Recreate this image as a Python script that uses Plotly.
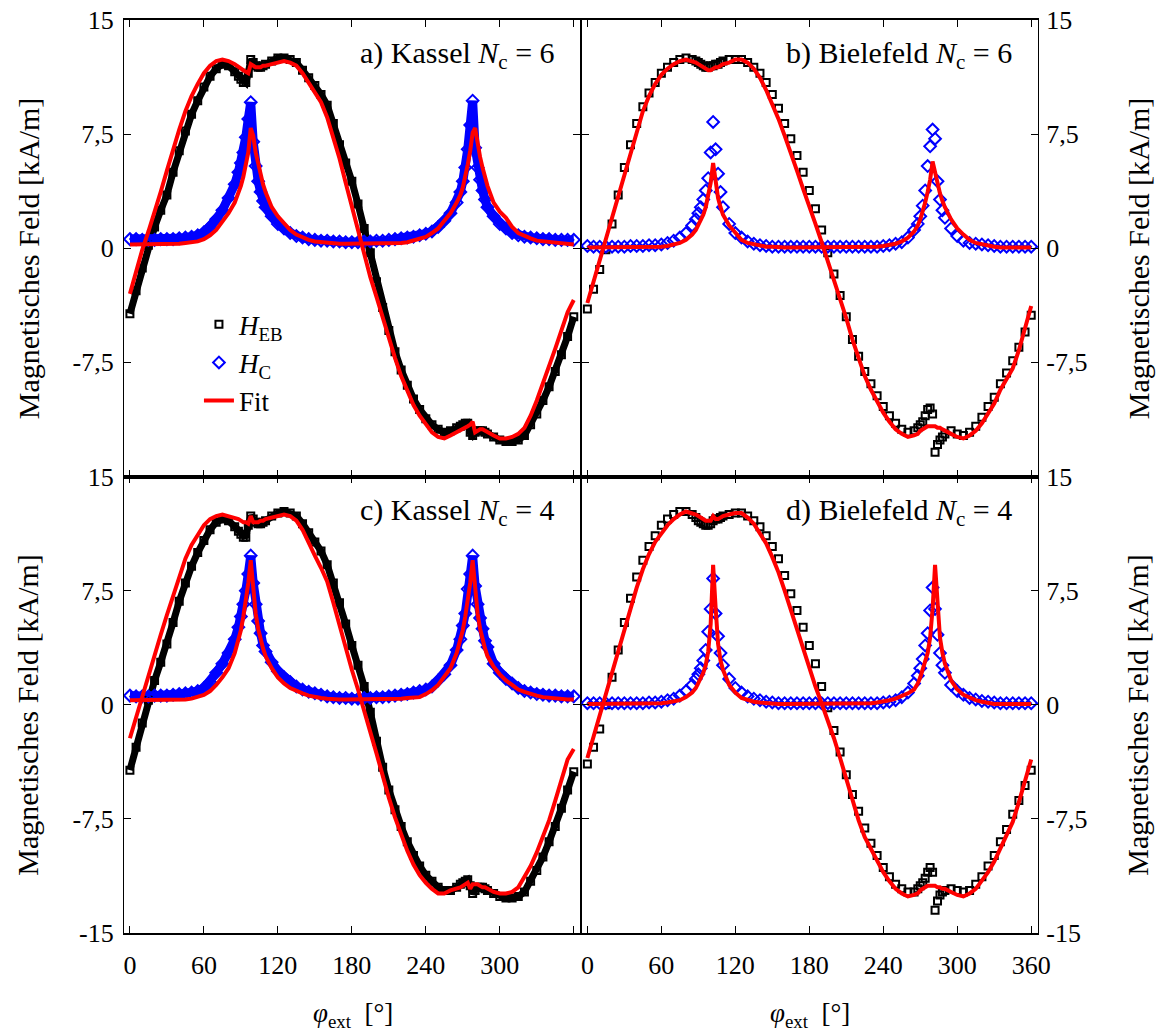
import plotly.graph_objects as go

# Winkel (Grad), gemeinsames Raster fuer alle Reihen
phi = [0, 5, 10, 15, 20, 25, 30, 35, 40, 45, 50, 55, 60, 65, 70, 75, 80, 85,
       88, 90, 92, 94, 96, 98, 100, 102, 104, 106, 108, 110,
       115, 120, 125, 130, 135, 140, 145, 150, 155, 160, 165, 170, 175, 180, 185,
       190, 195, 200, 205, 210, 215, 220, 225, 230, 235, 240, 245, 250, 255, 260, 265,
       268, 270, 272, 274, 276, 278, 280, 282, 284, 286, 288, 290,
       295, 300, 305, 310, 315, 320, 325, 330, 335, 340, 345, 350, 355, 360]

# a) Kassel Nc = 6
heb_a = [-4.3, -2.8, -1.3, 0.2, 1.4, 2.5, 3.5, 5.0, 6.4, 7.7, 8.8, 9.7, 10.6, 11.3, 11.8, 12.1, 12.0, 11.6,
         11.3, 11.1, 10.9, 10.9, 11.5, 12.4, 12.2, 12.0, 11.9, 11.9, 12.0, 12.1,
         12.3, 12.5, 12.5, 12.4, 12.2, 11.7, 11.2, 10.7, 10.1, 9.4, 8.2, 6.8, 5.6, 4.4, 2.9,
         1.3, -0.3, -2.2, -3.9, -5.4, -6.8, -8.0, -9.0, -9.9, -10.6, -11.2, -11.6, -11.9, -12.1, -12.0, -11.8,
         -11.7, -11.6, -11.5, -11.5, -12.1, -12.3, -12.1, -12.0, -12.0, -12.0, -12.1, -12.2,
         -12.4, -12.6, -12.7, -12.7, -12.6, -12.3, -11.6, -10.9, -10.0, -9.1, -8.1, -7.0, -5.8, -4.5]
hc_a = [0.6, 0.6, 0.55, 0.55, 0.55, 0.6, 0.6, 0.6, 0.65, 0.7, 0.75, 0.85, 1.05, 1.4, 1.9, 2.5, 3.3, 4.2,
        5.0, 5.6, 6.3, 7.3, 8.5, 9.6, 7.0, 5.4, 4.4, 3.7, 3.1, 2.7,
        2.1, 1.6, 1.3, 1.0, 0.8, 0.7, 0.6, 0.55, 0.5, 0.5, 0.45, 0.45, 0.4, 0.4, 0.4,
        0.45, 0.45, 0.5, 0.5, 0.55, 0.6, 0.65, 0.7, 0.75, 0.85, 0.95, 1.1, 1.4, 1.8, 2.3, 3.0,
        3.7, 4.4, 5.3, 6.5, 8.1, 9.7, 6.6, 5.3, 4.5, 3.8, 3.2, 2.7,
        2.1, 1.6, 1.3, 1.0, 0.85, 0.75, 0.7, 0.65, 0.6, 0.6, 0.55, 0.55, 0.55, 0.55]
fit_eb_a = [-3.0, -1.5, -0.1, 1.1, 2.3, 3.7, 5.1, 6.5, 7.8, 9.0, 10.0, 10.8, 11.5, 12.0, 12.3, 12.4, 12.3, 12.1,
            11.9, 11.8, 11.7, 11.6, 11.5, 12.1, 12.0, 11.9, 11.9, 11.9, 12.0, 12.0,
            12.1, 12.2, 12.3, 12.2, 12.0, 11.5, 10.9, 10.3, 9.6, 8.6, 7.3, 5.9, 4.3, 2.7, 1.2,
            -0.4, -1.9, -3.2, -4.6, -5.9, -7.2, -8.4, -9.4, -10.3, -11.0, -11.6, -12.1, -12.4, -12.5, -12.3, -12.1,
            -12.0, -11.9, -11.8, -11.7, -11.6, -11.4, -12.1, -12.0, -11.9, -11.9, -12.0, -12.1,
            -12.3, -12.5, -12.5, -12.4, -12.2, -11.8, -11.0, -10.0, -8.9, -7.8, -6.6, -5.4, -4.2, -3.4]
fit_hc_a = [0.25, 0.25, 0.25, 0.25, 0.25, 0.25, 0.25, 0.3, 0.3, 0.35, 0.4, 0.45, 0.6, 0.85, 1.2, 1.7, 2.3, 3.0,
            3.6, 4.1, 4.7, 5.4, 6.3, 7.9, 7.4, 6.3, 5.5, 4.8, 4.2, 3.7,
            2.7, 2.1, 1.6, 1.2, 0.9, 0.7, 0.55, 0.45, 0.4, 0.35, 0.3, 0.3, 0.3, 0.3, 0.3,
            0.3, 0.3, 0.3, 0.3, 0.3, 0.35, 0.35, 0.4, 0.5, 0.6, 0.75, 1.0, 1.3, 1.8, 2.3, 3.0,
            3.5, 4.0, 4.7, 5.5, 6.4, 7.6, 7.9, 6.8, 6.0, 5.3, 4.6, 4.1,
            3.0, 2.4, 2.0, 1.4, 1.0, 0.8, 0.65, 0.5, 0.45, 0.4, 0.35, 0.3, 0.3, 0.25]

# b) Bielefeld Nc = 6
heb_b = [-4.0, -2.7, -1.4, -0.1, 1.6, 3.5, 5.3, 6.8, 8.2, 9.3, 10.2, 10.9, 11.5, 11.9, 12.2, 12.4, 12.5, 12.4,
         12.3, 12.2, 12.1, 12.0, 11.9, 11.9, 12.0, 12.0, 12.1, 12.1, 12.2, 12.3,
         12.4, 12.4, 12.4, 12.2, 11.9, 11.5, 10.9, 10.1, 9.2, 8.2, 7.2, 6.1, 5.0, 3.8, 2.6,
         1.2, -0.3, -1.7, -3.1, -4.5, -6.0, -7.1, -8.1, -8.9, -9.7, -10.4, -11.0, -11.5, -11.9, -12.1, -12.0,
         -11.8, -11.6, -11.4, -11.0, -10.6, -10.5, -10.9, -13.4, -12.9, -12.6, -12.4, -12.2,
         -12.0, -12.2, -12.3, -12.1, -11.7, -11.1, -10.4, -9.8, -8.9, -8.2, -7.4, -6.5, -5.5, -4.4]
hc_b = [0.15, 0.1, 0.1, 0.1, 0.1, 0.1, 0.1, 0.15, 0.15, 0.15, 0.2, 0.2, 0.25, 0.35, 0.5, 0.7, 1.0, 1.5,
        1.9, 2.3, 2.7, 3.2, 3.8, 4.6, 6.3, 8.3, 6.5, 4.9, 3.7, 2.7,
        1.6, 1.0, 0.7, 0.45, 0.3, 0.2, 0.15, 0.1, 0.1, 0.1, 0.1, 0.1, 0.1, 0.1, 0.1,
        0.1, 0.1, 0.1, 0.1, 0.1, 0.1, 0.1, 0.1, 0.1, 0.1, 0.15, 0.2, 0.3, 0.4, 0.7, 1.2,
        1.6, 2.1, 2.8, 3.8, 5.4, 6.7, 7.8, 7.2, 4.4, 3.2, 2.5, 2.0,
        1.3, 0.8, 0.5, 0.35, 0.3, 0.25, 0.2, 0.15, 0.1, 0.1, 0.1, 0.1, 0.1, 0.1]
fit_eb_b = [-3.6, -2.2, -0.8, 0.6, 2.0, 3.5, 5.0, 6.4, 7.8, 9.0, 10.0, 10.8, 11.4, 11.8, 12.1, 12.3, 12.4, 12.3,
            12.2, 12.1, 12.0, 11.9, 11.8, 11.7, 11.7, 11.8, 11.9, 11.9, 12.0, 12.1,
            12.2, 12.4, 12.4, 12.2, 11.8, 11.2, 10.4, 9.5, 8.5, 7.4, 6.3, 5.1, 3.9, 2.8, 1.6,
            0.4, -0.8, -2.0, -3.3, -4.6, -6.0, -7.3, -8.4, -9.3, -10.1, -10.8, -11.4, -11.9, -12.2, -12.4, -12.3,
            -12.2, -12.0, -11.9, -11.8, -11.7, -11.7, -11.7, -11.7, -11.8, -11.8, -11.9, -12.0,
            -12.2, -12.4, -12.5, -12.3, -12.0, -11.5, -10.9, -10.2, -9.3, -8.6, -7.9, -6.7, -5.3, -3.8]
fit_hc_b = [0.05, 0.05, 0.05, 0.05, 0.05, 0.05, 0.05, 0.05, 0.05, 0.05, 0.05, 0.05, 0.1, 0.15, 0.25, 0.35, 0.55, 0.9,
            1.2, 1.5, 1.8, 2.2, 2.7, 3.4, 4.3, 5.6, 4.3, 3.3, 2.7, 2.2,
            1.5, 1.0, 0.55, 0.35, 0.25, 0.15, 0.1, 0.1, 0.05, 0.05, 0.05, 0.05, 0.05, 0.05, 0.05,
            0.05, 0.05, 0.05, 0.05, 0.05, 0.05, 0.05, 0.05, 0.1, 0.1, 0.15, 0.2, 0.3, 0.45, 0.7, 1.1,
            1.5, 1.9, 2.4, 3.0, 3.7, 4.5, 5.7, 5.0, 4.2, 3.6, 3.1, 2.7,
            1.9, 1.3, 0.9, 0.55, 0.35, 0.25, 0.15, 0.1, 0.05, 0.05, 0.05, 0.05, 0.05, 0.05]

# c) Kassel Nc = 4
heb_c = [-4.3, -2.8, -1.2, 0.3, 1.6, 2.8, 4.0, 5.4, 6.8, 8.0, 9.1, 10.0, 10.8, 11.5, 12.0, 12.2, 12.1, 11.7,
         11.4, 11.2, 11.0, 11.0, 11.8, 12.4, 12.2, 12.0, 11.9, 11.9, 12.0, 12.1,
         12.4, 12.6, 12.7, 12.6, 12.4, 11.9, 11.3, 10.7, 10.1, 9.2, 8.0, 6.7, 5.3, 3.9, 2.6,
         1.2, -0.5, -2.4, -4.1, -5.6, -6.9, -8.0, -9.0, -9.9, -10.6, -11.2, -11.6, -12.0, -12.2, -12.2, -12.0,
         -11.8, -11.7, -11.6, -11.5, -11.9, -12.4, -12.2, -12.0, -12.0, -12.0, -12.1, -12.2,
         -12.4, -12.6, -12.7, -12.7, -12.6, -12.3, -11.6, -10.9, -10.0, -9.0, -8.0, -6.8, -5.6, -4.4]
hc_c = [0.6, 0.55, 0.55, 0.55, 0.6, 0.6, 0.6, 0.65, 0.7, 0.75, 0.8, 0.9, 1.1, 1.5, 2.1, 2.7, 3.4, 4.3,
        5.1, 5.8, 6.6, 7.5, 8.6, 9.8, 8.0, 6.6, 5.5, 4.7, 3.9, 3.5,
        2.8, 2.2, 1.8, 1.5, 1.2, 1.0, 0.85, 0.75, 0.65, 0.55, 0.5, 0.45, 0.45, 0.4, 0.4,
        0.45, 0.45, 0.5, 0.5, 0.55, 0.6, 0.65, 0.7, 0.8, 0.9, 1.0, 1.2, 1.6, 2.0, 2.6, 3.6,
        4.3, 5.2, 6.0, 7.6, 8.6, 9.8, 7.8, 6.6, 5.7, 5.0, 4.2, 3.8,
        2.7, 2.1, 1.7, 1.4, 1.1, 0.9, 0.8, 0.7, 0.65, 0.6, 0.6, 0.55, 0.55, 0.55]
fit_eb_c = [-2.2, -0.8, 0.5, 2.0, 3.3, 4.6, 5.9, 7.2, 8.5, 9.6, 10.5, 11.2, 11.8, 12.2, 12.4, 12.5, 12.4, 12.3,
            12.2, 12.1, 12.0, 12.0, 11.9, 12.4, 12.0, 12.0, 12.0, 12.1, 12.1, 12.2,
            12.3, 12.4, 12.5, 12.4, 12.1, 11.5, 10.6, 9.8, 9.0, 8.1, 6.7, 5.2, 3.7, 2.3, 1.0,
            -0.3, -1.8, -3.2, -4.7, -6.1, -7.4, -8.6, -9.6, -10.5, -11.2, -11.7, -12.1, -12.4, -12.4, -12.2, -12.1,
            -12.0, -11.9, -11.8, -11.7, -12.1, -11.8, -11.8, -11.8, -11.9, -12.0, -12.0, -12.1,
            -12.3, -12.4, -12.4, -12.3, -12.0, -11.3, -10.6, -9.7, -8.7, -7.6, -6.3, -5.0, -3.6, -2.9]
fit_hc_c = [0.3, 0.3, 0.3, 0.3, 0.3, 0.3, 0.3, 0.3, 0.3, 0.35, 0.4, 0.5, 0.65, 0.9, 1.3, 1.8, 2.4, 3.4,
            4.2, 4.9, 5.8, 6.8, 8.0, 9.5, 7.4, 6.0, 5.0, 4.3, 3.7, 3.2,
            2.4, 1.8, 1.4, 1.1, 0.9, 0.75, 0.6, 0.5, 0.45, 0.4, 0.35, 0.35, 0.35, 0.35, 0.35,
            0.35, 0.35, 0.35, 0.35, 0.35, 0.35, 0.4, 0.45, 0.5, 0.5, 0.7, 0.95, 1.3, 1.8, 2.4, 3.4,
            4.2, 4.9, 5.8, 6.8, 8.0, 9.5, 7.4, 6.0, 5.0, 4.3, 3.7, 3.2,
            2.5, 2.0, 1.6, 1.3, 1.0, 0.85, 0.7, 0.6, 0.5, 0.45, 0.4, 0.35, 0.35, 0.35]

# d) Bielefeld Nc = 4
heb_d = [-3.9, -2.8, -1.6, 0.0, 1.8, 3.6, 5.4, 7.0, 8.4, 9.5, 10.4, 11.1, 11.8, 12.2, 12.5, 12.7, 12.7, 12.5,
         12.3, 12.1, 12.0, 11.9, 11.8, 11.8, 11.9, 12.1, 12.2, 12.2, 12.3, 12.4,
         12.5, 12.6, 12.6, 12.4, 12.1, 11.7, 11.1, 10.4, 9.6, 8.5, 7.3, 6.2, 5.1, 3.9, 2.7,
         1.2, -0.2, -1.7, -3.1, -4.6, -5.9, -7.0, -8.1, -9.1, -9.9, -10.7, -11.3, -11.8, -12.1, -12.3, -12.3,
         -12.1, -11.9, -11.7, -11.4, -11.0, -10.7, -11.0, -13.5, -12.9, -12.5, -12.3, -12.2,
         -12.1, -12.2, -12.3, -12.2, -11.8, -11.3, -10.6, -9.9, -9.0, -8.2, -7.2, -6.3, -5.3, -4.3]
hc_d = [0.1, 0.1, 0.1, 0.1, 0.1, 0.1, 0.1, 0.1, 0.1, 0.1, 0.15, 0.15, 0.2, 0.3, 0.4, 0.6, 0.9, 1.3,
        1.7, 2.0, 2.4, 2.9, 3.6, 4.8, 6.3, 8.3, 6.0, 4.5, 3.4, 2.6,
        1.7, 1.1, 0.8, 0.55, 0.4, 0.3, 0.2, 0.15, 0.1, 0.1, 0.1, 0.1, 0.1, 0.1, 0.1,
        0.1, 0.1, 0.1, 0.1, 0.1, 0.1, 0.1, 0.1, 0.1, 0.1, 0.15, 0.2, 0.3, 0.5, 0.8, 1.4,
        1.9, 2.4, 3.0, 3.9, 4.7, 6.2, 7.7, 6.3, 4.6, 3.4, 2.6, 2.1,
        1.3, 0.9, 0.65, 0.45, 0.35, 0.25, 0.2, 0.15, 0.1, 0.1, 0.1, 0.1, 0.1, 0.1]
fit_eb_d = [-3.5, -2.1, -0.7, 0.6, 2.0, 3.4, 4.9, 6.4, 7.7, 8.9, 9.9, 10.7, 11.3, 11.8, 12.2, 12.5, 12.7, 12.6,
            12.5, 12.4, 12.3, 12.2, 12.1, 12.1, 12.1, 12.4, 12.2, 12.2, 12.3, 12.4,
            12.5, 12.6, 12.6, 12.3, 11.9, 11.3, 10.6, 9.7, 8.7, 7.5, 6.2, 4.9, 3.6, 2.4, 1.2,
            0.1, -1.0, -2.2, -3.5, -4.9, -6.3, -7.6, -8.7, -9.5, -10.3, -11.0, -11.6, -12.1, -12.4, -12.6, -12.5,
            -12.4, -12.2, -12.1, -12.0, -11.9, -11.9, -11.9, -11.9, -12.0, -12.0, -12.1, -12.1,
            -12.3, -12.5, -12.6, -12.4, -12.1, -11.6, -11.0, -10.3, -9.4, -8.6, -7.7, -6.4, -5.0, -3.6]
fit_hc_d = [0.05, 0.05, 0.05, 0.05, 0.05, 0.05, 0.05, 0.05, 0.05, 0.05, 0.05, 0.05, 0.1, 0.15, 0.2, 0.3, 0.5, 0.8,
            1.1, 1.4, 1.7, 2.1, 2.6, 3.5, 5.3, 9.2, 6.4, 4.0, 2.9, 2.3,
            1.3, 0.8, 0.45, 0.3, 0.2, 0.15, 0.1, 0.05, 0.05, 0.05, 0.05, 0.05, 0.05, 0.05, 0.05,
            0.05, 0.05, 0.05, 0.05, 0.05, 0.05, 0.05, 0.05, 0.1, 0.15, 0.2, 0.3, 0.4, 0.55, 0.75, 1.0,
            1.4, 1.8, 2.3, 2.8, 3.4, 4.4, 6.3, 9.2, 6.4, 4.4, 3.4, 2.7,
            1.6, 1.0, 0.65, 0.45, 0.3, 0.2, 0.1, 0.05, 0.05, 0.05, 0.05, 0.05, 0.05, 0.05]

labels = ['a) Kassel <i>N</i><sub>c</sub> = 6', 'b) Bielefeld <i>N</i><sub>c</sub> = 6',
          'c) Kassel <i>N</i><sub>c</sub> = 4', 'd) Bielefeld <i>N</i><sub>c</sub> = 4']

FONT = 'Liberation Serif'
RED = '#ff0000'
BLUE = '#0000ff'

panels = [
    ('x', 'y', heb_a, hc_a, fit_eb_a, fit_hc_a, True),
    ('x2', 'y2', heb_b, hc_b, fit_eb_b, fit_hc_b, False),
    ('x3', 'y3', heb_c, hc_c, fit_eb_c, fit_hc_c, True),
    ('x4', 'y4', heb_d, hc_d, fit_eb_d, fit_hc_d, False),
]

fig = go.Figure()

for i, (xa, ya, heb, hc, feb, fhc, dense) in enumerate(panels):
    first = i == 0
    if dense:
        # Kassel-Messungen sind sehr dicht -> durchgehendes Band
        fig.add_trace(go.Scatter(x=phi, y=heb, mode='lines', line=dict(color='black', width=7),
                                 showlegend=False, hoverinfo='skip', xaxis=xa, yaxis=ya))
        fig.add_trace(go.Scatter(x=phi, y=hc, mode='lines', line=dict(color=BLUE, width=9),
                                 showlegend=False, hoverinfo='skip', xaxis=xa, yaxis=ya))
    fig.add_trace(go.Scatter(x=phi, y=heb, mode='markers', name='<i>H</i><sub>EB</sub>',
                             marker=dict(symbol='square-open', size=7, color='black', line=dict(width=2)),
                             showlegend=first, xaxis=xa, yaxis=ya))
    fig.add_trace(go.Scatter(x=phi, y=hc, mode='markers', name='<i>H</i><sub>C</sub>',
                             marker=dict(symbol='diamond-open', size=9, color=BLUE, line=dict(width=2)),
                             showlegend=first, xaxis=xa, yaxis=ya))
    fig.add_trace(go.Scatter(x=phi, y=feb, mode='lines', name='Fit',
                             line=dict(color=RED, width=4),
                             showlegend=first, xaxis=xa, yaxis=ya))
    fig.add_trace(go.Scatter(x=phi, y=fhc, mode='lines', name='Fit',
                             line=dict(color=RED, width=4),
                             showlegend=False, xaxis=xa, yaxis=ya))

axis_common = dict(
    showline=True, linecolor='black', mirror='ticks',
    ticks='inside', ticklen=7, tickwidth=1.2, tickcolor='black',
    showgrid=False, zeroline=False, automargin=False,
    tickfont=dict(family=FONT, size=26, color='black'),
)
xticks = [0, 60, 120, 180, 240, 300, 360]
yticks = [-15, -7.5, 0, 7.5, 15]
ytext_top = ['', '-7,5', '0', '7,5', '15']
ytext_bot = ['-15', '-7,5', '0', '7,5', '15']

xr = [-4.8, 365.5]
fig.update_layout(
    xaxis=dict(domain=[0, 0.4995], anchor='y', range=xr, tickvals=xticks, showticklabels=False,
               linewidth=1.8, **axis_common),
    xaxis2=dict(domain=[0.5005, 1], anchor='y2', range=xr, tickvals=xticks, showticklabels=False,
                linewidth=1.8, **axis_common),
    xaxis3=dict(domain=[0, 0.4995], anchor='y3', range=xr, tickvals=xticks,
                ticktext=['0', '60', '120', '180', '240', '300', ''], ticklabelstandoff=8,
                linewidth=1.8, **axis_common),
    xaxis4=dict(domain=[0.5005, 1], anchor='y4', range=xr, tickvals=xticks,
                ticktext=[str(v) for v in xticks], ticklabelstandoff=8, linewidth=1.8, **axis_common),
    yaxis=dict(domain=[0.5, 1], anchor='x', range=[-15, 15], tickvals=yticks, ticktext=ytext_top,
               ticklabelstandoff=4, linewidth=1.2, **axis_common),
    yaxis2=dict(domain=[0.5, 1], anchor='x2', side='right', range=[-15, 15], tickvals=yticks,
                ticktext=ytext_top, ticklabelstandoff=2, linewidth=1.2, **axis_common),
    yaxis3=dict(domain=[0, 0.5], anchor='x3', range=[-15, 15], tickvals=yticks, ticktext=ytext_bot,
                ticklabelstandoff=4, linewidth=1.2, **axis_common),
    yaxis4=dict(domain=[0, 0.5], anchor='x4', side='right', range=[-15, 15], tickvals=yticks,
                ticktext=ytext_bot, ticklabelstandoff=2, linewidth=1.2, **axis_common),
)

ann = []
refs = [('x domain', 'y domain'), ('x2 domain', 'y2 domain'), ('x3 domain', 'y3 domain'), ('x4 domain', 'y4 domain')]
for (xr_, yr_), txt in zip(refs, labels):
    ann.append(dict(text=txt, xref=xr_, yref=yr_, x=1, y=1, xanchor='right', yanchor='middle',
                    xshift=-24, yshift=-35, showarrow=False, font=dict(family=FONT, size=30, color='black')))

ytitle = 'Magnetisches Feld [kA/m]'
for yc in (0.75, 0.25):
    ann.append(dict(text=ytitle, xref='paper', yref='paper', x=0, y=yc, xshift=-96, yshift=-10,
                    xanchor='center', yanchor='middle',
                    textangle=-90, showarrow=False, font=dict(family=FONT, size=30, color='black')))
    ann.append(dict(text=ytitle, xref='paper', yref='paper', x=1, y=yc, xshift=100, yshift=-10,
                    xanchor='center', yanchor='middle',
                    textangle=-90, showarrow=False, font=dict(family=FONT, size=30, color='black')))

xtitle = '<i>φ</i><sub>ext</sub>  [°]'
for xc in (0.25, 0.75):
    ann.append(dict(text=xtitle, xref='paper', yref='paper', x=xc, y=0, yshift=-82,
                    xanchor='center', yanchor='middle',
                    showarrow=False, font=dict(family=FONT, size=27, color='black')))

fig.update_layout(
    width=1156, height=1032,
    margin=dict(l=124, r=118, t=20, b=99, autoexpand=False),
    paper_bgcolor='white', plot_bgcolor='white',
    annotations=ann,
    showlegend=True,
    legend=dict(x=0.082, y=0.693, xanchor='left', yanchor='top', bgcolor='rgba(0,0,0,0)',
                font=dict(family=FONT, size=27, color='black')),
    font=dict(family=FONT, color='black'),
)

fig.write_html('out.html', config={'displayModeBar': False},
               post_script="document.body.style.margin='0';")
